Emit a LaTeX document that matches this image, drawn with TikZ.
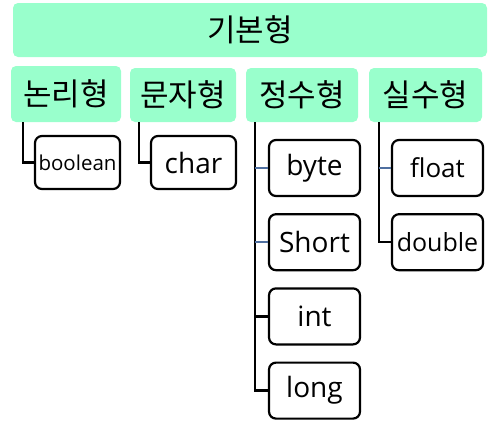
\documentclass[tikz,border=0pt]{standalone}
\usepackage{fontspec}
\setmainfont{Open Sans}
\newfontfamily\korfont{Noto Sans CJK KR}
\usepackage{tikz}
\usetikzlibrary{positioning}
\definecolor{mymint}{RGB}{153,255,204}
\definecolor{myblue}{RGB}{79,111,160}
\newcommand\catnode[4][]{%
  \node[catnode,#1,minimum width=#2] (#3) {#4};
}
\newcommand\typenode[4][]{%
  \node[typenode,#1,minimum width=#2] (#3) {#4};
}

\begin{document}
\begin{tikzpicture}[x=1pt, y=-1pt,
node distance= 16pt,
catnode/.style={
  rectangle,
  rounded corners=5pt,
  fill=mymint,
  inner sep=0pt,
  minimum height=54pt,
  font=\korfont\fontsize{31}{35}\selectfont},
typenode/.style={
  rectangle,
  draw,
  line width=2.2pt,
  rounded corners=7pt,
  fill=white,
  inner sep=0pt,
  minimum height=56pt,
  font=\fontsize{28}{32}\selectfont},
link/.style={line width=2.4pt},
tick/.style={line width=2.2pt, draw=myblue}
]
\useasboundingbox (0,0) rectangle (500,437);
\catnode[at={(250,30)}]{474pt}{basic}{기본형}
\catnode[at={(66,94)},minimum height=56pt]{110pt}{logic}{논리형}
\catnode[at={(183,95)}]{106pt}{text}{문자형}
\catnode[at={(302,95)}]{112pt}{integer}{정수형}
\catnode[at={(425.5,95)}]{113pt}{real}{실수형}
% 논리형, 문자형
\typenode[at={(77.5,162.5)},minimum height=53pt,font=\fontsize{20.5}{24}\selectfont]{85pt}{boolean}{boolean}
\typenode[at={(193.5,162.5)},minimum height=53pt]{85pt}{char}{char}
% 정수형
\typenode[at={(314.5,168)}]{91pt}{byte}{byte}
\typenode[below=16pt of byte]{91pt}{short}{Short}
\typenode[below=16pt of short]{91pt}{int}{int}
\typenode[below=16pt of int]{91pt}{long}{long}
% 실수형
\typenode[at={(437.5,168)},font=\fontsize{26}{30}\selectfont]{91pt}{float}{float}
\typenode[below=16pt of float,font=\fontsize{25}{30}\selectfont]{91pt}{double}{double}

\coordinate (intline) at ([xshift=9pt]integer.south west);
\coordinate (realline) at ([xshift=10pt]real.south west);
\draw [link] ([xshift=12pt]logic.south west) |- (boolean.west);
\draw [link] ([xshift=9pt]text.south west) |- (char.west);
\draw [link] (intline) |- (long.west);
\draw [tick] (intline |- byte.west) -- (byte.west);
\draw [tick] (intline |- short.west) -- (short.west);
\draw [link] (intline |- int.west) -- (int.west);
\draw [link] (realline) |- (double.west);
\draw [tick] (realline |- float.west) -- (float.west);
\end{tikzpicture}
\end{document}
